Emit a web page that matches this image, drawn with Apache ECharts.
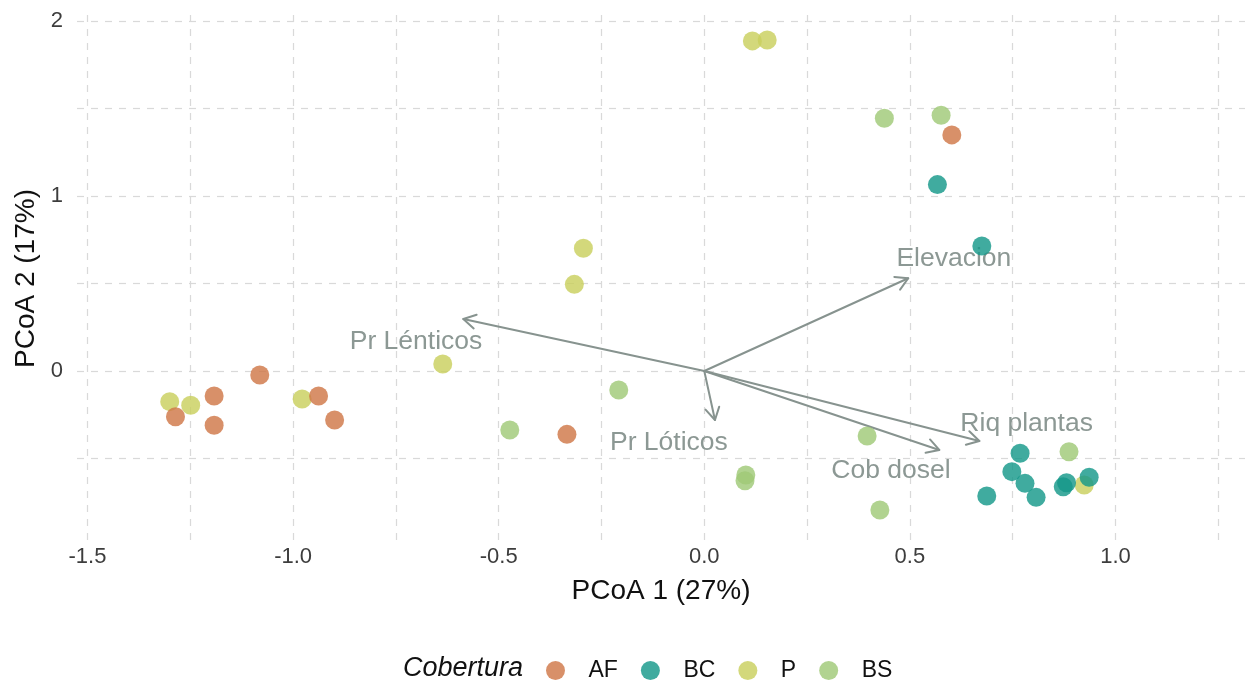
<!DOCTYPE html>
<html>
<head>
<meta charset="utf-8">
<script src="https://cdn.jsdelivr.net/npm/echarts@6/dist/echarts.min.js"></script>
<style>
html,body{margin:0;padding:0;background:#fff;}
#chart{width:1247px;height:684px;}
</style>
</head>
<body>
<div id="chart"></div>
<script>
// ---- data ----
const groups = ['AF', 'BC', 'P', 'BS'];
const pointsAF = [[-1.286,-0.261],[-1.192,-0.143],[-1.192,-0.310],[-1.081,-0.023],[-0.938,-0.143],[-0.899,-0.280],[-0.334,-0.362],[0.602,1.349]];
const pointsBC = [[0.567,1.065],[0.675,0.714],[0.768,-0.470],[0.748,-0.575],[0.780,-0.642],[0.687,-0.714],[0.807,-0.722],[0.873,-0.661],[0.881,-0.638],[0.936,-0.607]];
const pointsP  = [[-1.300,-0.175],[-1.249,-0.196],[-0.978,-0.160],[-0.636,0.040],[-0.316,0.495],[-0.294,0.701],[0.117,1.886],[0.153,1.891],[0.924,-0.651]];
const pointsBS = [[0.438,1.444],[0.576,1.461],[-0.208,-0.109],[-0.473,-0.337],[0.101,-0.594],[0.099,-0.627],[0.396,-0.371],[0.427,-0.794],[0.887,-0.461]];
const vectorNames = ['Pr Lénticos','Elevacion','Pr Lóticos','Cob dosel','Riq plantas'];
const vectorTips  = [[-0.586,0.297],[0.496,0.530],[0.026,-0.280],[0.5715,-0.451],[0.669,-0.400]];
const vectorLabelAt = [[-0.701,0.166],[0.607,0.640],[-0.086,-0.410],[0.454,-0.570],[0.784,-0.299]];
const xTickValues = [-1.5,-1.25,-1.0,-0.75,-0.5,-0.25,0,0.25,0.5,0.75,1.0,1.25];
const xLabelValues = [-1.5,-1.0,-0.5,0,0.5,1.0];
const yTickValues = [-0.5,0,0.5,1,1.5,2];
const yLabelValues = [0,1,2];
const xTitle = 'PCoA 1 (27%)';
const yTitle = 'PCoA 2 (17%)';
const legendTitle = 'Cobertura';

const colors = {AF:'#D07748', BC:'#16998A', P:'#C9D05E', BS:'#A0C977'};
const FONT = '"Liberation Sans", Arial, sans-serif';
const gridLine = {show:true, lineStyle:{color:'#D9D9D9', width:1.2, type:[7,7]}};

const chart = echarts.init(document.getElementById('chart'), null, {renderer:'canvas'});

function pointSeries(name, data, z) {
  return {
    name: name, type:'scatter', data: data, symbol:'circle', symbolSize:19, z: z,
    itemStyle:{color: colors[name], opacity:0.82},
    emphasis:{disabled:true}
  };
}

const arrowColor = '#87938F';
const option = {
  animation:false,
  grid:{left:77, top:15, width:1168, height:527, containLabel:false},
  xAxis:{
    type:'value', min:-1.5255, max:1.315,
    axisLine:{show:false},
    axisTick:{show:false, customValues:xTickValues},
    splitLine:gridLine,
    axisLabel:{customValues:xLabelValues, margin:4, fontSize:22, color:'#3d3d3d', fontFamily:FONT,
      formatter:v=>Number(v).toFixed(1)},
    name:xTitle, nameLocation:'middle', nameGap:35,
    nameTextStyle:{fontSize:28, color:'#111', fontFamily:FONT}
  },
  yAxis:{
    type:'value', min:-0.977, max:2.034,
    axisLine:{show:false},
    axisTick:{show:false, customValues:yTickValues},
    splitLine:gridLine,
    axisLabel:{customValues:yLabelValues, margin:14, fontSize:22, color:'#3d3d3d', fontFamily:FONT,
      formatter:v=>String(Math.round(v))},
    name:yTitle, nameLocation:'middle', nameGap:31, nameRotate:90,
    nameTextStyle:{fontSize:28, color:'#111', fontFamily:FONT}
  },
  legend:{
    data: groups, orient:'horizontal', left:546, top:659, padding:0,
    itemWidth:56, itemHeight:19, itemGap:23, icon:'circle',
    textStyle:{fontSize:23, color:'#111', fontFamily:FONT},
    itemStyle:{opacity:0.82},
    selectedMode:false
  },
  graphic:[{
    type:'text', left:403, top:655,
    style:{text:legendTitle, fontSize:27, fontStyle:'italic', fill:'#111', fontFamily:FONT}
  }],
  series:[
    {
      type:'custom', name:'vectors', z:1, silent:true,
      data: vectorTips.map((t,i)=>[t[0], t[1], i]),
      renderItem:function(params, api){
        const o = api.coord([0,0]);
        const t = api.coord([api.value(0), api.value(1)]);
        const ang = Math.atan2(t[1]-o[1], t[0]-o[0]);
        const L = 14, a = Math.PI/6;
        const p1 = [t[0]-L*Math.cos(ang-a), t[1]-L*Math.sin(ang-a)];
        const p2 = [t[0]-L*Math.cos(ang+a), t[1]-L*Math.sin(ang+a)];
        const st = {stroke:arrowColor, lineWidth:2, fill:null, lineCap:'round', lineJoin:'round'};
        return {type:'group', children:[
          {type:'line', shape:{x1:o[0], y1:o[1], x2:t[0], y2:t[1]}, style:st},
          {type:'polyline', shape:{points:[p1, t, p2]}, style:st}
        ]};
      }
    },
    {
      type:'custom', name:'vectorLabels', z:1, silent:true,
      data: vectorLabelAt.map((p,i)=>[p[0], p[1], i]),
      renderItem:function(params, api){
        const c = api.coord([api.value(0), api.value(1)]);
        return {type:'text', x:c[0], y:c[1], style:{
          text: vectorNames[api.value(2)], fontSize:26.5, fontFamily:FONT, fill:'#8C9894',
          align:'center', verticalAlign:'middle'}};
      }
    },
    pointSeries('P', pointsP, 3),
    pointSeries('BS', pointsBS, 3),
    pointSeries('AF', pointsAF, 3),
    pointSeries('BC', pointsBC, 3)
  ]
};
chart.setOption(option);
</script>
</body>
</html>
